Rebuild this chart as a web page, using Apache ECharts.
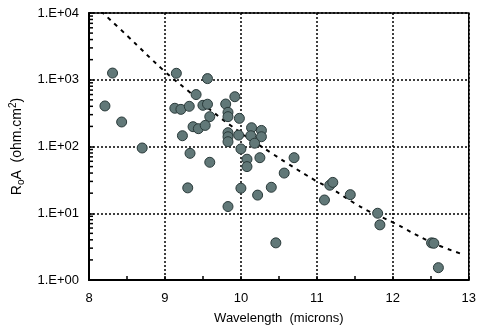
<!DOCTYPE html>
<html>
<head>
<meta charset="utf-8">
<script src="https://cdn.jsdelivr.net/npm/echarts@6/dist/echarts.min.js"></script>
<style>html,body{margin:0;padding:0;background:#fff;}#c{width:479px;height:334px;}</style>
</head>
<body>
<div id="c"></div>
<script>
// Measured points: wavelength (microns) and R0A (ohm.cm^2)
var pointX = [8.31, 8.21, 8.43, 8.70, 9.15, 9.56, 9.41, 9.13, 9.21, 9.32, 9.50, 9.56, 9.59, 9.37, 9.44, 9.53, 9.23, 9.33, 9.59, 9.30,
  9.92, 9.80, 9.83, 9.83, 9.98, 10.14, 10.27, 9.83, 9.83, 9.83, 9.97, 10.13, 10.27, 10.18, 10.00, 10.08, 10.08, 10.25, 10.70, 10.57,
  10.00, 10.22, 10.40, 10.46, 11.10, 11.17, 11.21, 11.44, 9.83, 11.80, 11.83, 12.51, 12.54, 12.60];
var pointY = [1260, 405, 233, 95, 1250, 1040, 600, 374, 360, 400, 414, 430, 280, 198, 185, 207, 145, 79, 58, 24,
  557, 433, 325, 280, 264, 191, 174, 161, 140, 118, 148, 145, 140, 112, 92, 64.5, 50, 68, 68, 40,
  23.7, 18.7, 24.5, 3.6, 15.8, 26.3, 29, 19, 12.6, 10, 6.7, 3.6, 3.55, 1.53];
// Dashed reference curve
var curveX = [8.16, 8.5, 9.0, 9.3, 9.6, 10.0, 10.4, 10.6, 11.0, 11.2, 11.5, 11.7, 12.0, 12.5, 12.93];
var curveY = [10600, 4600, 1320, 690, 352, 160, 80, 57, 30, 23, 14, 10.5, 7.3, 3.7, 2.4];
// Axis tick labels
var xTickLabels = ['8', '9', '10', '11', '12', '13'];
var yTickLabels = ['1.E+00', '1.E+01', '1.E+02', '1.E+03', '1.E+04'];
var yMinorMultipliers = [2, 3, 4, 5, 6, 7, 8, 9];
var yDecades = [1, 10, 100, 1000];

var scatterData = pointX.map(function (x, i) { return [x, pointY[i]]; });
var curveData = curveX.map(function (x, i) { return [x, curveY[i]]; });
var minorData = [];
yDecades.forEach(function (d) { yMinorMultipliers.forEach(function (m) { minorData.push([8, d * m]); }); });

var FONT = 'Liberation Sans, Arial, sans-serif';
var chart = echarts.init(document.getElementById('c'), null, {renderer: 'canvas'});
chart.setOption({
  animation: false,
  backgroundColor: '#fff',
  grid: {left: 89, right: 7, top: 13, bottom: 54, show: true, borderColor: '#000', borderWidth: 1.5, backgroundColor: 'transparent'},
  xAxis: {
    type: 'value', min: 8, max: 13, interval: 1,
    axisLine: {show: true, onZero: false, lineStyle: {color: '#000', width: 2}},
    axisTick: {show: true, inside: true, length: 4, lineStyle: {color: '#000', width: 1.5}},
    minorTick: {show: true, splitNumber: 2, length: 4, lineStyle: {color: '#000', width: 1.5}},
    splitLine: {show: true, lineStyle: {color: '#000', type: [2, 2], width: 1.5}},
    axisLabel: {color: '#000', fontFamily: FONT, fontSize: 13, margin: 12,
      formatter: function (v) { return xTickLabels[Math.round(v - 8)]; }},
    name: 'Wavelength  (microns)', nameLocation: 'middle', nameGap: 32,
    nameTextStyle: {color: '#000', fontFamily: FONT, fontSize: 13}
  },
  yAxis: {
    type: 'log', min: 1, max: 10000, logBase: 10,
    axisLine: {show: true, lineStyle: {color: '#000', width: 2}},
    axisTick: {show: true, inside: true, length: 5, lineStyle: {color: '#000', width: 1.5}},
    splitLine: {show: true, lineStyle: {color: '#000', type: [2, 2], width: 1.5}},
    axisLabel: {color: '#000', fontFamily: FONT, fontSize: 13, margin: 10,
      formatter: function (v) { return yTickLabels[Math.round(Math.log10(v))]; }},
    name: '{a|R}{s|o}{a|A  (ohm.cm}{p|2}{a|)}', nameLocation: 'middle', nameGap: 60, nameRotate: 90,
    nameTextStyle: {color: '#000', fontFamily: FONT, fontSize: 14,
      rich: {
        a: {fontFamily: FONT, fontSize: 14, color: '#000', verticalAlign: 'middle', lineHeight: 18},
        s: {fontFamily: FONT, fontSize: 10, color: '#000', verticalAlign: 'bottom', lineHeight: 10},
        p: {fontFamily: FONT, fontSize: 10, color: '#000', verticalAlign: 'top', lineHeight: 10}
      }}
  },
  series: [
    {
      type: 'custom', data: minorData, silent: true, clip: false, z: 5,
      renderItem: function (params, api) {
        var p = api.coord([api.value(0), api.value(1)]);
        return {type: 'line', shape: {x1: p[0], y1: p[1], x2: p[0] + 4, y2: p[1]}, style: {stroke: '#000', lineWidth: 1.5}};
      }
    },
    {
      type: 'line', data: curveData, smooth: 0.4, showSymbol: false, symbol: 'none', clip: true, z: 3,
      lineStyle: {color: '#000', width: 2, type: [4, 5]}
    },
    {
      type: 'scatter', data: scatterData, symbol: 'circle', symbolSize: 10, z: 4,
      itemStyle: {color: '#617878', borderColor: '#2a3a3a', borderWidth: 1, opacity: 1}
    }
  ]
});
</script>
</body>
</html>
